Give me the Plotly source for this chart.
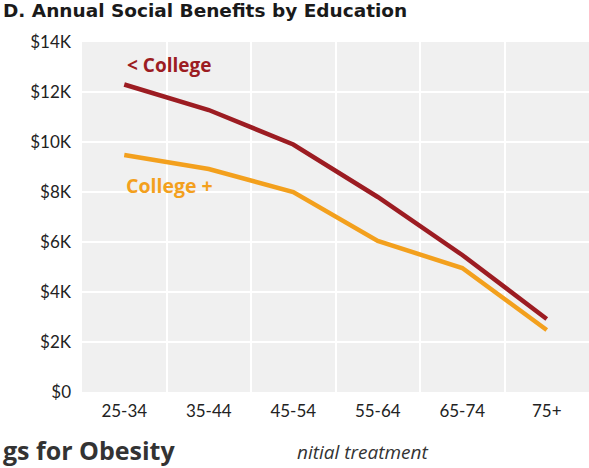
import plotly.graph_objects as go

age_groups = ["25-34", "35-44", "45-54", "55-64", "65-74", "75+"]
less_college = [12300, 11280, 9900, 7800, 5480, 2920]
college_plus = [9480, 8920, 8000, 6040, 4960, 2480]
y_tickvals = [0, 2000, 4000, 6000, 8000, 10000, 12000, 14000]
y_ticktext = ["$0", "$2K", "$4K", "$6K", "$8K", "$10K", "$12K", "$14K"]

RED = "#9c1c22"
ORANGE = "#f3a01d"

fig = go.Figure()
fig.add_trace(go.Scatter(x=age_groups, y=less_college, mode="lines",
                         line=dict(color=RED, width=4.5), name="< College"))
fig.add_trace(go.Scatter(x=age_groups, y=college_plus, mode="lines",
                         line=dict(color=ORANGE, width=4.5), name="College +"))

fig.add_annotation(x=age_groups[0], y=13100, xref="x", yref="y", text="<b>&lt; College</b>",
                   showarrow=False, xanchor="left", xshift=1,
                   font=dict(family="Open Sans", size=19, color=RED))
fig.add_annotation(x=age_groups[0], y=8250, xref="x", yref="y", text="<b>College +</b>",
                   showarrow=False, xanchor="left", xshift=0,
                   font=dict(family="Open Sans", size=19.5, color=ORANGE))

fig.add_annotation(x=0, y=1, xref="paper", yref="paper", text="<b>D. Annual Social Benefits by Education</b>",
                   showarrow=False, xanchor="left", yanchor="middle", xshift=-81, yshift=32,
                   font=dict(family="DejaVu Sans", size=18.5, color="#1a1a1a"))
fig.add_annotation(x=0, y=0, xref="paper", yref="paper", text="<b>gs for Obesity</b>",
                   showarrow=False, xanchor="left", yanchor="middle", xshift=-81, yshift=-58,
                   font=dict(family="Open Sans", size=25, color="#333333"))
fig.add_annotation(x=0, y=0, xref="paper", yref="paper", text="<i>nitial treatment</i>",
                   showarrow=False, xanchor="left", yanchor="middle", xshift=213, yshift=-60,
                   font=dict(family="Open Sans", size=19, color="#333333"))

fig.update_layout(
    width=589, height=468,
    margin=dict(l=82, r=0, t=42, b=76),
    paper_bgcolor="white", plot_bgcolor="#f0f0f0",
    showlegend=False,
    xaxis=dict(type="category", tickson="boundaries", showgrid=True, gridcolor="white", gridwidth=2,
               ticks="", zeroline=False, showline=False, ticklabelstandoff=7,
               tickfont=dict(family="Lato", size=17, color="#222222"), range=[-0.5, 5.5]),
    yaxis=dict(range=[0, 14000], tickvals=y_tickvals, ticktext=y_ticktext, showgrid=True,
               gridcolor="white", gridwidth=2, zeroline=False, showline=False, ticks="",
               ticklabelstandoff=10,
               tickfont=dict(family="Lato", size=17, color="#222222")),
)

fig.write_html("out.html")
